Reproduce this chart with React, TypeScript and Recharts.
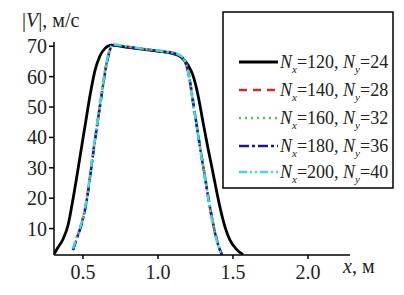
import { LineChart, Line, XAxis, YAxis } from 'recharts'

// coarse grid (Nx=120, Ny=24)
const xCoarse = [0.31, 0.33, 0.367, 0.4, 0.433, 0.467, 0.493, 0.513, 0.547, 0.58, 0.613, 0.647, 0.69, 0.8, 0.9, 1.0, 1.1, 1.15, 1.2, 1.233, 1.267, 1.3, 1.333, 1.36, 1.38, 1.413, 1.447, 1.48, 1.527, 1.567]
const vCoarse = [1.8, 3.5, 6.5, 11, 19.5, 29.5, 37.5, 43.5, 53.8, 62, 66.8, 69.3, 70.4, 69.6, 69, 68.4, 67.6, 66.6, 63.8, 60.5, 53.9, 45.1, 36.5, 30, 25, 17.1, 10.5, 6.2, 3, 1.4]

// finer grids share the same x points
const xFine = [0.433, 0.46, 0.493, 0.527, 0.547, 0.567, 0.6, 0.627, 0.647, 0.667, 0.685, 0.7, 0.8, 0.9, 1.0, 1.1, 1.16, 1.19, 1.21, 1.23, 1.26, 1.28, 1.31, 1.333, 1.36, 1.38, 1.41, 1.427]
const v140 = [3, 7, 12, 20, 27, 34.5, 46, 55, 61.5, 66.5, 69.5, 70.4, 69.8, 69.1, 68.5, 67.8, 66.4, 63.8, 59.5, 53, 43.5, 37, 28, 21, 13.5, 8.8, 3.5, 1.5]
const v160 = [3.2, 7.2, 12.2, 20.2, 27.2, 34.7, 46.2, 55.2, 61.7, 66.6, 69.6, 70.5, 69.8, 69.1, 68.5, 67.8, 66.5, 63.9, 59.7, 53.3, 43.8, 37.3, 28.3, 21.3, 13.8, 9, 3.7, 1.6]
const v180 = [2.9, 6.8, 11.8, 19.8, 26.8, 34.3, 45.8, 54.8, 61.3, 66.3, 69.4, 70.3, 69.7, 69, 68.4, 67.7, 66.3, 63.6, 59.3, 52.8, 43.3, 36.8, 27.8, 20.8, 13.3, 8.6, 3.3, 1.4]
const v200 = [3.4, 7.4, 12.4, 20.4, 27.4, 34.9, 46.4, 55.4, 61.9, 66.8, 69.7, 70.6, 69.9, 69.2, 68.6, 67.9, 66.6, 63.7, 59.2, 52.6, 43, 36.5, 27.5, 20.5, 13, 8.3, 3.1, 1.3]

const xTicks = [0.5, 1.0, 1.5, 2.0]
const yTicks = [10, 20, 30, 40, 50, 60, 70]

const toPoints = (xs: number[], vs: number[]) => xs.map((x, i) => ({ x, v: vs[i] }))

const series = [
  { nx: 120, ny: 24, data: toPoints(xCoarse, vCoarse), color: '#000000', dash: undefined, width: 2.8 },
  { nx: 140, ny: 28, data: toPoints(xFine, v140), color: '#d42a2a', dash: '8 6', width: 2.5 },
  { nx: 160, ny: 32, data: toPoints(xFine, v160), color: '#5fbf5f', dash: '2 4', width: 2.5 },
  { nx: 180, ny: 36, data: toPoints(xFine, v180), color: '#1a1a90', dash: '10 3 3 3', width: 2.5 },
  { nx: 200, ny: 40, data: toPoints(xFine, v200), color: '#3fd8e0', dash: '8 3 2 3 2 3', width: 2.5 },
]

const font = "'Liberation Serif', 'Times New Roman', serif"

function XTick({ x, y, payload }: any) {
  return (
    <text x={x} y={y + 20} textAnchor="middle" fontFamily={font} fontSize={20} fill="#222">
      {Number(payload.value).toFixed(1)}
    </text>
  )
}

function YTick({ x, y, payload }: any) {
  return (
    <text x={x} y={y + 7} textAnchor="end" fontFamily={font} fontSize={20} fill="#222">
      {payload.value}
    </text>
  )
}

function LegendBox() {
  const rows = [51, 79, 107, 135, 161]
  return (
    <svg
      width={172}
      height={178}
      style={{ position: 'absolute', left: 222, top: 11 }}
    >
      <rect x={1} y={1} width={170} height={176} fill="#fff" stroke="#000" strokeWidth={1.5} />
      {series.map((s, i) => (
        <g key={s.nx}>
          <line
            x1={17}
            x2={56}
            y1={rows[i]}
            y2={rows[i]}
            stroke={s.color}
            strokeWidth={s.width}
            strokeDasharray={s.dash}
          />
          <text x={58} y={rows[i] + 6} fontFamily={font} fontSize={18} fill="#222">
            <tspan fontStyle="italic">N</tspan>
            <tspan fontStyle="italic" fontSize={11} dy={5}>x</tspan>
            <tspan dy={-5}>={s.nx}, </tspan>
            <tspan fontStyle="italic">N</tspan>
            <tspan fontStyle="italic" fontSize={11} dy={5}>y</tspan>
            <tspan dy={-5}>={s.ny}</tspan>
          </text>
        </g>
      ))}
    </svg>
  )
}

export default function App() {
  return (
    <div style={{ position: 'absolute', left: 0, top: 0, width: 404, height: 295, background: '#fff' }}>
      <LineChart
        width={404}
        height={295}
        margin={{ top: 42, right: 54, bottom: 0, left: 0 }}
      >
        <XAxis
          dataKey="x"
          type="number"
          domain={[0.307, 2.28]}
          ticks={xTicks}
          allowDataOverflow
          height={40}
          stroke="#000"
          strokeWidth={1.5}
          tickSize={4}
          tickMargin={0}
          tick={<XTick />}
        />
        <YAxis
          dataKey="v"
          type="number"
          domain={[1.3, 71.4]}
          ticks={yTicks}
          allowDataOverflow
          width={54}
          stroke="#000"
          strokeWidth={1.5}
          tickSize={5}
          tickMargin={2}
          tick={<YTick />}
        />
        {series.map((s) => (
          <Line
            key={s.nx}
            data={s.data}
            dataKey="v"
            type="monotone"
            stroke={s.color}
            strokeWidth={s.width}
            strokeDasharray={s.dash}
            dot={false}
            isAnimationActive={false}
          />
        ))}
        <text x={22} y={27} fontFamily={font} fontSize={20} fill="#222">
          |<tspan fontStyle="italic">V</tspan>|, м/с
        </text>
        <text x={343} y={273} fontFamily={font} fontSize={20} fill="#222">
          <tspan fontStyle="italic">x</tspan>, м
        </text>
      </LineChart>
      <LegendBox />
    </div>
  )
}
